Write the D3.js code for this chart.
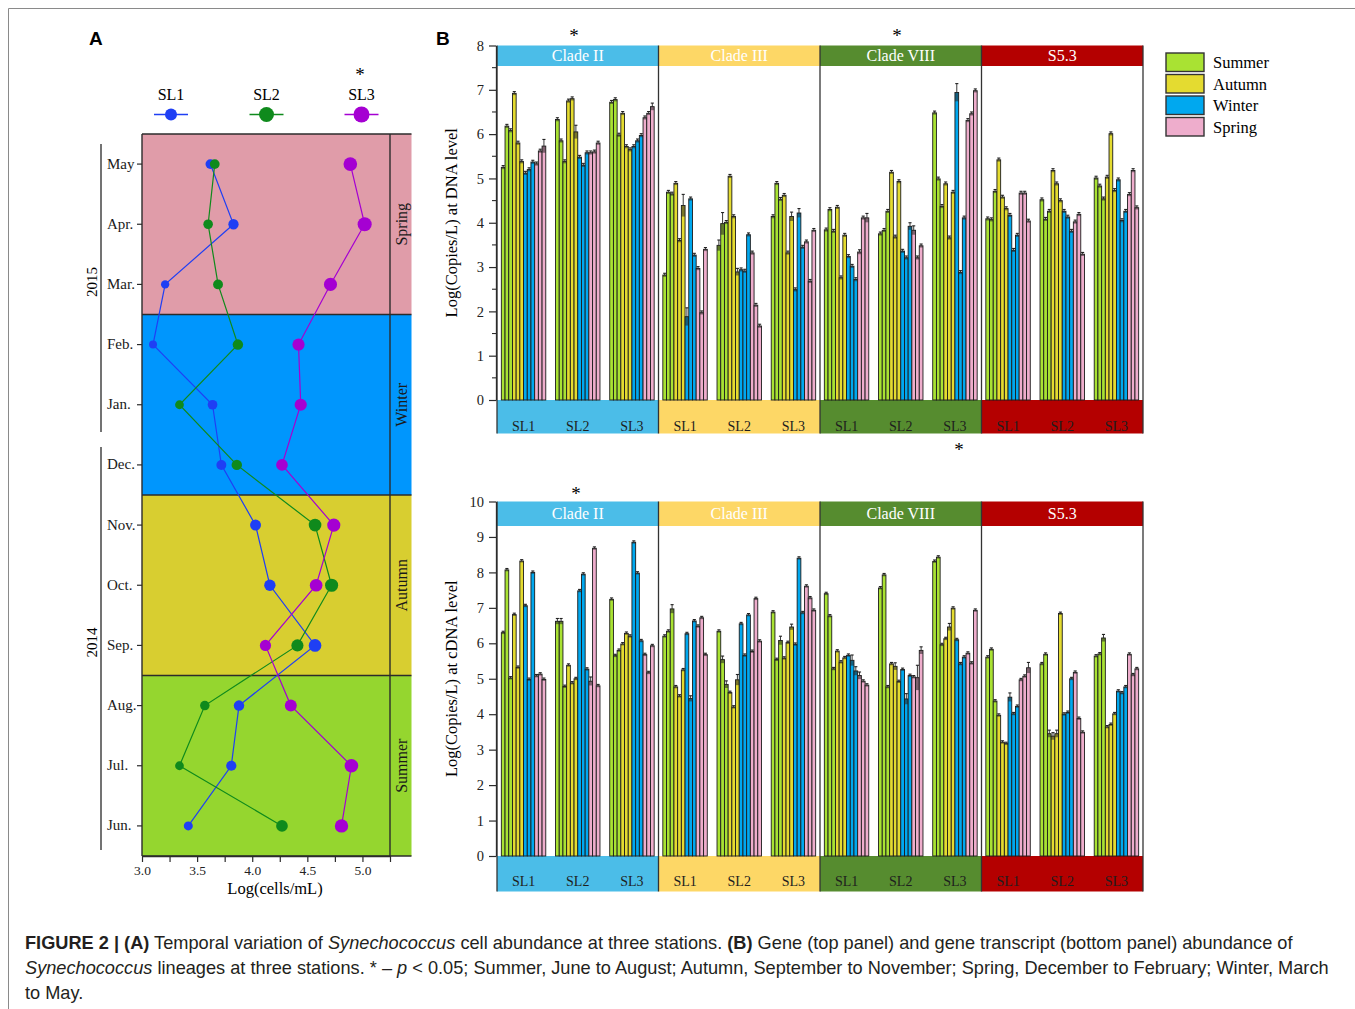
<!DOCTYPE html>
<html>
<head>
<meta charset="utf-8">
<script src="https://cdn.jsdelivr.net/npm/d3@7"></script>
<style>
  body { margin: 0; background: #fff; }
  text { font-family: 'Liberation Serif', 'Times New Roman', serif; }
  .sans { font-family: 'Liberation Sans', Arial, sans-serif; }
</style>
</head>
<body>
<svg id="fig" width="1355" height="1009"></svg>
<script>
// ---------- Panel A: cell abundance, log(cells/mL) ----------
const months = ["Jun.", "Jul.", "Aug.", "Sep.", "Oct.", "Nov.", "Dec.", "Jan.", "Feb.", "Mar.", "Apr.", "May"];
const sl1Cells = [3.42, 3.81, 3.88, 4.57, 4.16, 4.03, 3.72, 3.64, 3.10, 3.21, 3.83, 3.62];
const sl2Cells = [4.27, 3.34, 3.57, 4.41, 4.72, 4.57, 3.86, 3.34, 3.87, 3.69, 3.60, 3.66];
const sl3Cells = [4.81, 4.90, 4.35, 4.12, 4.58, 4.74, 4.27, 4.44, 4.42, 4.71, 5.02, 4.89];
const cellTicks = [3.0, 3.5, 4.0, 4.5, 5.0];

// ---------- Panel B: gene copies per lineage ----------
const seasons = ["Summer", "Autumn", "Winter", "Spring"];
const clades = ["Clade II", "Clade III", "Clade VIII", "S5.3"];
const stations = ["SL1", "SL2", "SL3"];

// DNA level (top), one array per station, Jun..May
const dnaCladeII   = [[5.25, 6.18, 6.08, 6.92, 5.80, 5.38, 5.12, 5.20, 5.37, 5.33, 5.62, 5.73],
                      [6.33, 5.85, 5.38, 6.75, 6.80, 6.05, 5.48, 5.30, 5.58, 5.58, 5.60, 5.80],
                      [6.72, 6.78, 5.98, 6.47, 5.72, 5.65, 5.72, 5.85, 5.97, 6.37, 6.47, 6.62]];
const dnaCladeIII  = [[2.82, 4.69, 4.65, 4.89, 3.60, 4.39, 1.88, 4.54, 3.27, 2.97, 1.97, 3.40],
                      [3.49, 3.98, 4.01, 5.05, 4.14, 2.89, 2.94, 2.91, 3.73, 3.32, 2.14, 1.67],
                      [4.14, 4.89, 4.53, 4.62, 3.32, 4.14, 2.49, 4.22, 3.45, 3.57, 2.68, 3.83]];
const dnaCladeVIII = [[3.84, 4.30, 3.81, 4.35, 2.76, 3.72, 3.24, 3.02, 2.72, 3.34, 4.11, 4.11],
                      [3.75, 3.83, 4.26, 5.14, 3.68, 4.93, 3.36, 3.21, 3.92, 3.83, 3.21, 3.48],
                      [6.48, 4.99, 4.37, 4.88, 3.66, 4.69, 6.94, 2.88, 4.11, 6.31, 6.46, 6.98]];
const dnaS53       = [[4.09, 4.07, 4.71, 5.42, 4.58, 4.32, 4.17, 3.38, 3.72, 4.67, 4.67, 4.04],
                      [4.52, 4.08, 4.26, 5.18, 4.88, 4.50, 4.26, 4.13, 3.81, 4.02, 4.19, 3.29],
                      [5.01, 4.83, 4.54, 5.03, 6.01, 4.73, 4.97, 4.05, 4.26, 4.64, 5.18, 4.34]];

// cDNA level (bottom)
const cdnaCladeII   = [[6.30, 8.07, 5.02, 6.81, 5.32, 8.32, 7.06, 4.98, 8.00, 5.08, 5.13, 4.98],
                       [6.62, 6.62, 4.78, 5.38, 4.88, 5.00, 7.48, 7.95, 5.27, 4.93, 8.68, 4.80],
                       [7.24, 5.65, 5.80, 5.98, 6.28, 6.20, 8.85, 7.98, 6.07, 5.68, 5.17, 5.93]];
const cdnaCladeIII  = [[6.20, 6.34, 6.97, 4.77, 4.51, 5.25, 6.27, 4.44, 6.63, 6.48, 6.72, 5.68],
                       [6.34, 5.54, 4.84, 4.61, 4.20, 4.97, 6.55, 5.66, 6.80, 5.77, 7.26, 6.06],
                       [6.88, 5.54, 6.08, 5.58, 6.02, 6.46, 5.97, 8.40, 6.86, 7.61, 7.28, 6.93]];
const cdnaCladeVIII = [[7.40, 6.77, 5.28, 5.78, 5.47, 5.59, 5.66, 5.52, 5.22, 5.09, 4.93, 4.82],
                       [7.56, 7.93, 4.77, 5.42, 5.35, 4.92, 5.26, 4.43, 5.09, 5.05, 5.03, 5.80],
                       [8.31, 8.43, 5.96, 6.13, 6.46, 6.99, 6.10, 5.42, 5.61, 5.72, 5.44, 6.93]];
const cdnaS53       = [[5.61, 5.83, 4.37, 3.97, 3.21, 3.17, 4.48, 4.01, 4.22, 4.97, 5.07, 5.31],
                       [5.42, 5.69, 3.45, 3.38, 3.45, 6.84, 4.00, 4.05, 5.00, 5.18, 3.88, 3.49],
                       [5.64, 5.70, 6.15, 3.64, 3.71, 4.01, 4.65, 4.60, 4.77, 5.69, 5.11, 5.28]];

// standard errors that stand out: [clade, station, month, error]; others use a small default
const dnaErr = [[0, 0, 11, 0.15], [0, 1, 5, 0.15], [0, 2, 11, 0.08],
                [1, 0, 5, 0.25], [1, 0, 6, 0.20], [1, 1, 0, 0.12], [1, 1, 1, 0.25], [1, 1, 5, 0.08],
                [1, 2, 5, 0.10], [1, 2, 7, 0.10],
                [2, 0, 9, 0.05], [2, 0, 11, 0.10], [2, 1, 8, 0.08], [2, 1, 9, 0.10], [2, 2, 6, 0.20]];
const cdnaErr = [[0, 1, 0, 0.08], [0, 1, 1, 0.08], [0, 1, 9, 0.12],
                 [1, 0, 2, 0.12], [1, 0, 7, 0.08], [1, 1, 1, 0.10], [1, 1, 2, 0.10], [1, 1, 5, 0.15],
                 [1, 2, 2, 0.12], [1, 2, 5, 0.08],
                 [2, 0, 7, 0.15], [2, 0, 8, 0.12], [2, 0, 9, 0.10], [2, 1, 4, 0.10], [2, 1, 7, 0.15],
                 [2, 1, 10, 0.35], [2, 1, 11, 0.10], [2, 2, 4, 0.10],
                 [3, 0, 6, 0.12], [3, 0, 11, 0.15], [3, 1, 2, 0.10], [3, 1, 3, 0.10], [3, 1, 4, 0.10],
                 [3, 2, 2, 0.10]];

const dnaTicks = [0, 1, 2, 3, 4, 5, 6, 7, 8];
const cdnaTicks = [0, 1, 2, 3, 4, 5, 6, 7, 8, 9, 10];

// ---------- styling ----------
const stationColors = ["#1f3ff4", "#0f8a1c", "#a500d2"];
const seasonBgA = ["#95d62f", "#d8ce30", "#0096fd", "#e09ca9"];
const barColors = ["#a9e233", "#e4db30", "#00a8ef", "#eeadcc"];
const cladeColors = ["#4bbde8", "#fdd766", "#568c2f", "#b40000"];
const ink = "#2b2b2b";

const svg = d3.select("#fig");

// figure frame
svg.append("path").attr("d", "M8.5,1009 V8.5 H1355").attr("fill", "none")
  .attr("stroke", "#8a8a8a").attr("stroke-width", 1);

// panel letters
svg.append("text").attr("class", "sans").attr("x", 89).attr("y", 45)
  .attr("font-size", 19).attr("font-weight", "bold").text("A");
svg.append("text").attr("class", "sans").attr("x", 436).attr("y", 45)
  .attr("font-size", 19).attr("font-weight", "bold").text("B");

// significance mark
function star(g, x, y) {
  g.append("text").attr("x", x).attr("y", y).attr("text-anchor", "middle")
    .attr("font-size", 19).text("*");
}

// ================= Panel A =================
const aLeft = 142, aStrip = 390, aRight = 411.5, aTop = 134, aBottom = 856;
const xA = d3.scaleLinear().domain([3, 5.25]).range([aLeft, aStrip]);
const yA = d3.scaleBand().domain(months.slice().reverse()).range([aTop, aBottom]);
const cyA = m => yA(m) + yA.bandwidth() / 2;
const rA = d3.scaleLinear().domain([3.1, 5.0]).range([4, 7]);

const gA = svg.append("g");
seasons.forEach((s, si) => {
  const top = yA(months[si * 3 + 2]);
  const bot = yA(months[si * 3]) + yA.bandwidth();
  gA.append("rect").attr("x", aLeft).attr("y", top).attr("width", aRight - aLeft)
    .attr("height", bot - top).attr("fill", seasonBgA[si]);
  gA.append("text").attr("transform", `translate(${(aStrip + aRight) / 2 + 6},${(top + bot) / 2}) rotate(-90)`)
    .attr("text-anchor", "middle").attr("font-size", 16).attr("fill", "#1a1a1a").text(s);
});
// season boundaries and frame
[0, 1, 2, 3].forEach(si => {
  const top = yA(months[si * 3 + 2]);
  gA.append("line").attr("x1", aLeft).attr("x2", aRight).attr("y1", top).attr("y2", top)
    .attr("stroke", ink).attr("stroke-width", 1.4);
});
gA.append("line").attr("x1", aLeft).attr("x2", aRight).attr("y1", aBottom).attr("y2", aBottom)
  .attr("stroke", ink).attr("stroke-width", 1.4);
gA.append("line").attr("x1", aStrip).attr("x2", aStrip).attr("y1", aTop).attr("y2", aBottom)
  .attr("stroke", ink).attr("stroke-width", 1.4);

// x axis
const axA = gA.append("g").attr("transform", `translate(0,${aBottom})`)
  .call(d3.axisBottom(xA).tickValues(d3.range(3, 5.26, 0.25)).tickSize(6).tickPadding(3).tickSizeOuter(0)
    .tickFormat(d => cellTicks.some(t => Math.abs(t - d) < 1e-6) ? d3.format(".1f")(d) : ""));
axA.select(".domain").attr("stroke", ink).attr("stroke-width", 1.4);
axA.selectAll(".tick line").attr("stroke", ink).attr("stroke-width", 1.2);
axA.selectAll(".tick text").attr("font-family", "'Liberation Serif', serif").attr("font-size", 13.5)
  .attr("fill", "#222").attr("dy", "0.71em");
gA.append("text").attr("x", 275).attr("y", 894).attr("text-anchor", "middle")
  .attr("font-size", 16.5).text("Log(cells/mL)");

// y axis (months)
gA.append("line").attr("x1", aLeft).attr("x2", aLeft).attr("y1", aTop).attr("y2", aBottom)
  .attr("stroke", ink).attr("stroke-width", 1.4);
months.forEach(m => {
  gA.append("line").attr("x1", aLeft - 5).attr("x2", aLeft).attr("y1", cyA(m)).attr("y2", cyA(m))
    .attr("stroke", ink).attr("stroke-width", 1.2);
  gA.append("text").attr("x", 107).attr("y", cyA(m)).attr("dy", "0.3em")
    .attr("font-size", 15).attr("fill", "#1a1a1a").text(m);
});
// years
[["2015", 144, 432], ["2014", 447, 850]].forEach(([yr, y1, y2]) => {
  gA.append("line").attr("x1", 101).attr("x2", 101).attr("y1", y1).attr("y2", y2)
    .attr("stroke", "#444").attr("stroke-width", 1.5);
  gA.append("text").attr("transform", `translate(97,${(y1 + y2) / 2 - 6}) rotate(-90)`)
    .attr("text-anchor", "middle").attr("font-size", 15).text(yr);
});

// station series
const cellSeries = [sl1Cells, sl2Cells, sl3Cells];
const lineA = d3.line().x(d => xA(d.v)).y(d => cyA(d.m));
cellSeries.forEach((vals, i) => {
  const pts = vals.map((v, k) => ({ v, m: months[k] }));
  gA.append("path").datum(pts).attr("d", lineA).attr("fill", "none")
    .attr("stroke", stationColors[i]).attr("stroke-width", 1.2);
  gA.selectAll(null).data(pts).enter().append("circle")
    .attr("cx", d => xA(d.v)).attr("cy", d => cyA(d.m)).attr("r", d => rA(d.v))
    .attr("fill", stationColors[i]);
});

// legend A
const legA = [[171, 6], [266.5, 7.5], [361.5, 8]];
stations.forEach((s, i) => {
  const [lx, lr] = legA[i];
  gA.append("text").attr("x", lx).attr("y", 100).attr("text-anchor", "middle")
    .attr("font-size", 16).text(s);
  gA.append("line").attr("x1", lx - 17).attr("x2", lx + 17).attr("y1", 114.5).attr("y2", 114.5)
    .attr("stroke", stationColors[i]).attr("stroke-width", 1.5);
  gA.append("circle").attr("cx", lx).attr("cy", 114.5).attr("r", lr).attr("fill", stationColors[i]);
});
star(gA, 360, 81);

// ================= Panel B =================
const cladeX = d3.scaleBand().domain(clades).range([497, 1143]);
const stationX = d3.scaleBand().domain(stations).range([0, cladeX.bandwidth()])
  .paddingInner(0.18).paddingOuter(0.08);
const barX = d3.scaleBand().domain(d3.range(12)).range([0, stationX.bandwidth()]);

function drawPanel(cfg) {
  const g = svg.append("g");
  const y = d3.scaleLinear().domain([0, cfg.max]).range([cfg.base, cfg.top]);

  // headers and station strips
  clades.forEach((c, ci) => {
    const x0 = cladeX(c), w = cladeX.bandwidth();
    g.append("rect").attr("x", x0).attr("y", cfg.top).attr("width", w).attr("height", cfg.headBot - cfg.top)
      .attr("fill", cladeColors[ci]);
    g.append("text").attr("x", x0 + w / 2).attr("y", (cfg.top + cfg.headBot) / 2).attr("dy", "0.35em")
      .attr("text-anchor", "middle").attr("font-size", 16).attr("fill", "#fff").text(c);
    g.append("rect").attr("x", x0).attr("y", cfg.base).attr("width", w).attr("height", cfg.stripBot - cfg.base)
      .attr("fill", cladeColors[ci]);
    stations.forEach(s => {
      g.append("text").attr("x", x0 + stationX(s) + stationX.bandwidth() / 2).attr("y", cfg.labelY)
        .attr("text-anchor", "middle").attr("font-size", 14).attr("fill", "#1e1e1e").text(s);
    });
  });

  // bars
  const errLookup = new Map(cfg.err.map(([c, s, m, e]) => [`${c}-${s}-${m}`, e]));
  cfg.data.forEach((stationVals, ci) => {
    stationVals.forEach((vals, si) => {
      const gx = cladeX(clades[ci]) + stationX(stations[si]);
      vals.forEach((v, mi) => {
        const bx = gx + barX(mi), bw = barX.bandwidth();
        const e = errLookup.get(`${ci}-${si}-${mi}`) ?? 0.04;
        g.append("rect").attr("x", bx).attr("y", y(v)).attr("width", bw).attr("height", y(0) - y(v))
          .attr("fill", barColors[Math.floor(mi / 3)]).attr("stroke", "#1c1c1c").attr("stroke-width", 0.9);
        // error shading inside the bar and whisker above it
        g.append("rect").attr("x", bx).attr("y", y(v)).attr("width", bw).attr("height", y(v - e) - y(v))
          .attr("fill", "#222").attr("opacity", 0.55);
        g.append("line").attr("x1", bx + bw / 2).attr("x2", bx + bw / 2).attr("y1", y(v)).attr("y2", y(v + e))
          .attr("stroke", "#222").attr("stroke-width", 0.9);
        g.append("line").attr("x1", bx + 0.3).attr("x2", bx + bw - 0.3).attr("y1", y(v + e)).attr("y2", y(v + e))
          .attr("stroke", "#222").attr("stroke-width", 1.1);
      });
    });
  });

  // clade separators
  clades.concat(["end"]).forEach((c, i) => {
    const x = i < clades.length ? cladeX(c) : cladeX.range()[1];
    g.append("line").attr("x1", x).attr("x2", x).attr("y1", cfg.top).attr("y2", cfg.stripBot)
      .attr("stroke", "#333").attr("stroke-width", 1.3);
  });

  // y axis
  const ax = g.append("g").attr("transform", "translate(496,0)")
    .call(d3.axisLeft(y).tickValues(cfg.ticks).tickFormat(d3.format("d")).tickSize(7).tickPadding(5).tickSizeOuter(0));
  ax.select(".domain").attr("stroke", ink).attr("stroke-width", 1.3);
  ax.selectAll(".tick line").attr("stroke", ink).attr("stroke-width", 1.2);
  ax.selectAll(".tick text").attr("font-family", "'Liberation Serif', serif").attr("font-size", 14.5).attr("fill", "#222");
  if (cfg.minor) {
    cfg.ticks.slice(1).forEach(t => {
      g.append("line").attr("x1", 492).attr("x2", 496).attr("y1", y(t - 0.5)).attr("y2", y(t - 0.5))
        .attr("stroke", ink).attr("stroke-width", 1.1);
    });
  }
  g.append("text").attr("transform", `translate(457,${(cfg.top + cfg.base) / 2}) rotate(-90)`)
    .attr("text-anchor", "middle").attr("font-size", 16.5).text(cfg.title);

  cfg.stars.forEach(([sx, sy]) => star(g, sx, sy));
  return y;
}

const yDNA = drawPanel({
  data: [dnaCladeII, dnaCladeIII, dnaCladeVIII, dnaS53], err: dnaErr,
  max: 8, top: 45.5, headBot: 66, base: 400, stripBot: 433.5, labelY: 431,
  ticks: dnaTicks, minor: true, title: "Log(Copies/L) at DNA level",
  stars: [[574, 41.5], [897, 41.5], [959, 456]]
});
const yCDNA = drawPanel({
  data: [cdnaCladeII, cdnaCladeIII, cdnaCladeVIII, cdnaS53], err: cdnaErr,
  max: 10, top: 501.5, headBot: 526, base: 856, stripBot: 891.5, labelY: 886,
  ticks: cdnaTicks, minor: false, title: "Log(Copies/L) at cDNA level",
  stars: [[576, 499.5]]
});

// season legend
const legB = svg.append("g");
seasons.forEach((s, i) => {
  const ly = 53 + i * 21.5;
  legB.append("rect").attr("x", 1166).attr("y", ly).attr("width", 38).attr("height", 18.5)
    .attr("fill", barColors[i]).attr("stroke", "#333").attr("stroke-width", 1.4);
  legB.append("text").attr("x", 1213).attr("y", ly + 9.5).attr("dy", "0.35em")
    .attr("font-size", 16.5).text(s);
});

// ================= caption =================
const cap = svg.append("g").attr("class", "sans").attr("fill", "#231f20").attr("font-size", 18.2);
const capLines = [
  [["FIGURE 2 | (A)", "b"], [" Temporal variation of ", ""], ["Synechococcus", "i"],
   [" cell abundance at three stations. ", ""], ["(B)", "b"],
   [" Gene (top panel) and gene transcript (bottom panel) abundance of", ""]],
  [["Synechococcus", "i"], [" lineages at three stations. * \u2013 ", ""], ["p", "i"],
   [" < 0.05; Summer, June to August; Autumn, September to November; Spring, December to February; Winter, March", ""]],
  [["to May.", ""]]
];
capLines.forEach((parts, li) => {
  const t = cap.append("text").attr("class", "sans").attr("x", 25).attr("y", 949 + li * 25)
    .attr("xml:space", "preserve");
  parts.forEach(([str, st]) => {
    const ts = t.append("tspan").text(str);
    if (st === "b") ts.attr("font-weight", "bold");
    if (st === "i") ts.attr("font-style", "italic");
  });
});
</script>
</body>
</html>
